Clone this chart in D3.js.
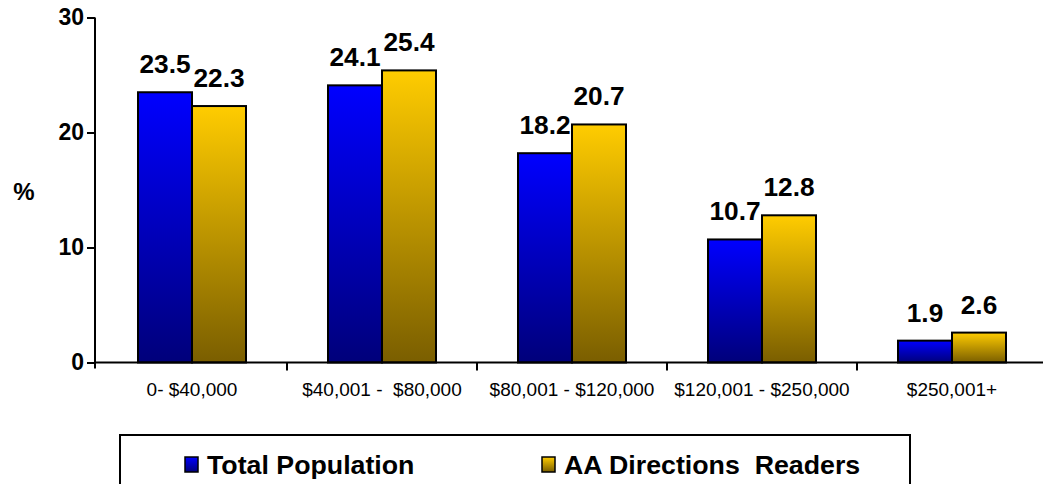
<!DOCTYPE html>
<html>
<head>
<meta charset="utf-8">
<script src="https://cdn.jsdelivr.net/npm/d3@7"></script>
<style>
  html, body { margin: 0; padding: 0; background: #fff; }
  svg { display: block; }
</style>
</head>
<body>
<svg id="chart" width="1043" height="484"></svg>
<script>
const categories = ["0- $40,000", "$40,001 -  $80,000", "$80,001 - $120,000", "$120,001 - $250,000", "$250,001+"];
const seriesNames = ["Total Population", "AA Directions  Readers"];
const totalPopulation = [23.5, 24.1, 18.2, 10.7, 1.9];
const aaReaders = [22.3, 25.4, 20.7, 12.8, 2.6];
const yTicks = [0, 10, 20, 30];

const series = [
  { key: "tp", name: seriesNames[0], values: totalPopulation, c0: "#0000ff", c1: "#00007a" },
  { key: "aa", name: seriesNames[1], values: aaReaders, c0: "#ffcc00", c1: "#7a5e00" }
];

const svg = d3.select("#chart");
const plotLeft = 95, plotRight = 1047, plotTop = 17.5, plotBottom = 362.5;
const boldFont = "Liberation Sans, Arial, sans-serif";

const x = d3.scaleBand().domain(categories).range([plotLeft + 2, plotRight]).paddingInner(0).paddingOuter(0);
const y = d3.scaleLinear().domain([0, 30]).range([plotBottom, plotTop]);
const barW = 54;

// vertical gradients, one per series, stretched over each bar
const defs = svg.append("defs");
series.forEach(s => {
  const g = defs.append("linearGradient").attr("id", "grad-" + s.key)
    .attr("x1", 0).attr("y1", 0).attr("x2", 0).attr("y2", 1);
  g.append("stop").attr("offset", "0%").attr("stop-color", s.c0);
  g.append("stop").attr("offset", "100%").attr("stop-color", s.c1);
});

// bars and value labels
series.forEach((s, si) => {
  const rows = s.values.map((v, i) => ({ v, c: categories[i] }));
  svg.append("g").selectAll("rect")
    .data(rows)
    .join("rect")
    .attr("x", d => x(d.c) + x.bandwidth() / 2 - barW + si * barW)
    .attr("y", d => y(d.v))
    .attr("width", barW)
    .attr("height", d => y(0) - y(d.v))
    .attr("fill", "url(#grad-" + s.key + ")")
    .attr("stroke", "#000")
    .attr("stroke-width", 2);

  svg.append("g").selectAll("text")
    .data(rows)
    .join("text")
    .attr("transform", d => `translate(${x(d.c) + x.bandwidth() / 2 - barW / 2 + si * barW},${y(d.v) - 19}) scale(1.05,1)`)
    .attr("text-anchor", "middle")
    .attr("font-family", boldFont)
    .attr("font-weight", "bold")
    .attr("font-size", 25)
    .text(d => d.v.toFixed(1));
});

// y axis
const yAxis = d3.axisLeft(y).tickValues(yTicks).tickSize(8).tickPadding(3).tickFormat(d3.format("d"));
const yg = svg.append("g").attr("transform", `translate(${plotLeft},0)`).call(yAxis);
yg.select(".domain").attr("d", `M0,${plotTop}V${plotBottom + 6}`).attr("stroke-width", 2);
yg.selectAll(".tick line").attr("stroke-width", 2);
yg.selectAll(".tick text")
  .attr("font-family", boldFont)
  .attr("font-weight", "bold")
  .attr("font-size", 23)
  .attr("fill", "#000");

// x axis
const xg = svg.append("g").attr("transform", `translate(0,${plotBottom})`);
xg.append("line").attr("x1", plotLeft).attr("x2", 1043).attr("y1", 0).attr("y2", 0)
  .attr("stroke", "#000").attr("stroke-width", 2);
xg.selectAll("line.sep")
  .data(categories.slice(1))
  .join("line")
  .attr("class", "sep")
  .attr("x1", d => x(d)).attr("x2", d => x(d))
  .attr("y1", 0).attr("y2", 8)
  .attr("stroke", "#000").attr("stroke-width", 2);
xg.selectAll("text.cat")
  .data(categories)
  .join("text")
  .attr("class", "cat")
  .attr("x", d => x(d) + x.bandwidth() / 2)
  .attr("y", 33)
  .attr("text-anchor", "middle")
  .attr("font-family", "Liberation Sans Narrow, Arial Narrow, sans-serif")
  .attr("font-size", 19)
  .style("white-space", "pre")
  .text(d => d);

// axis title
svg.append("text")
  .attr("x", 24).attr("y", 200)
  .attr("text-anchor", "middle")
  .attr("font-family", boldFont)
  .attr("font-weight", "bold")
  .attr("font-size", 24)
  .text("%");

// legend
const lg = svg.append("g");
lg.append("rect").attr("x", 120).attr("y", 435).attr("width", 790).attr("height", 70)
  .attr("fill", "#fff").attr("stroke", "#000").attr("stroke-width", 2);
const legendX = [185, 542];
series.forEach((s, i) => {
  lg.append("rect").attr("x", legendX[i]).attr("y", 457).attr("width", 13).attr("height", 15)
    .attr("fill", "url(#grad-" + s.key + ")").attr("stroke", "#000").attr("stroke-width", 1.5);
  lg.append("text")
    .attr("transform", `translate(${legendX[i] + 22},474) scale(1.07,1)`)
    .attr("font-family", boldFont)
    .attr("font-weight", "bold")
    .attr("font-size", 25)
    .style("white-space", "pre")
    .text(s.name);
});
</script>
</body>
</html>
